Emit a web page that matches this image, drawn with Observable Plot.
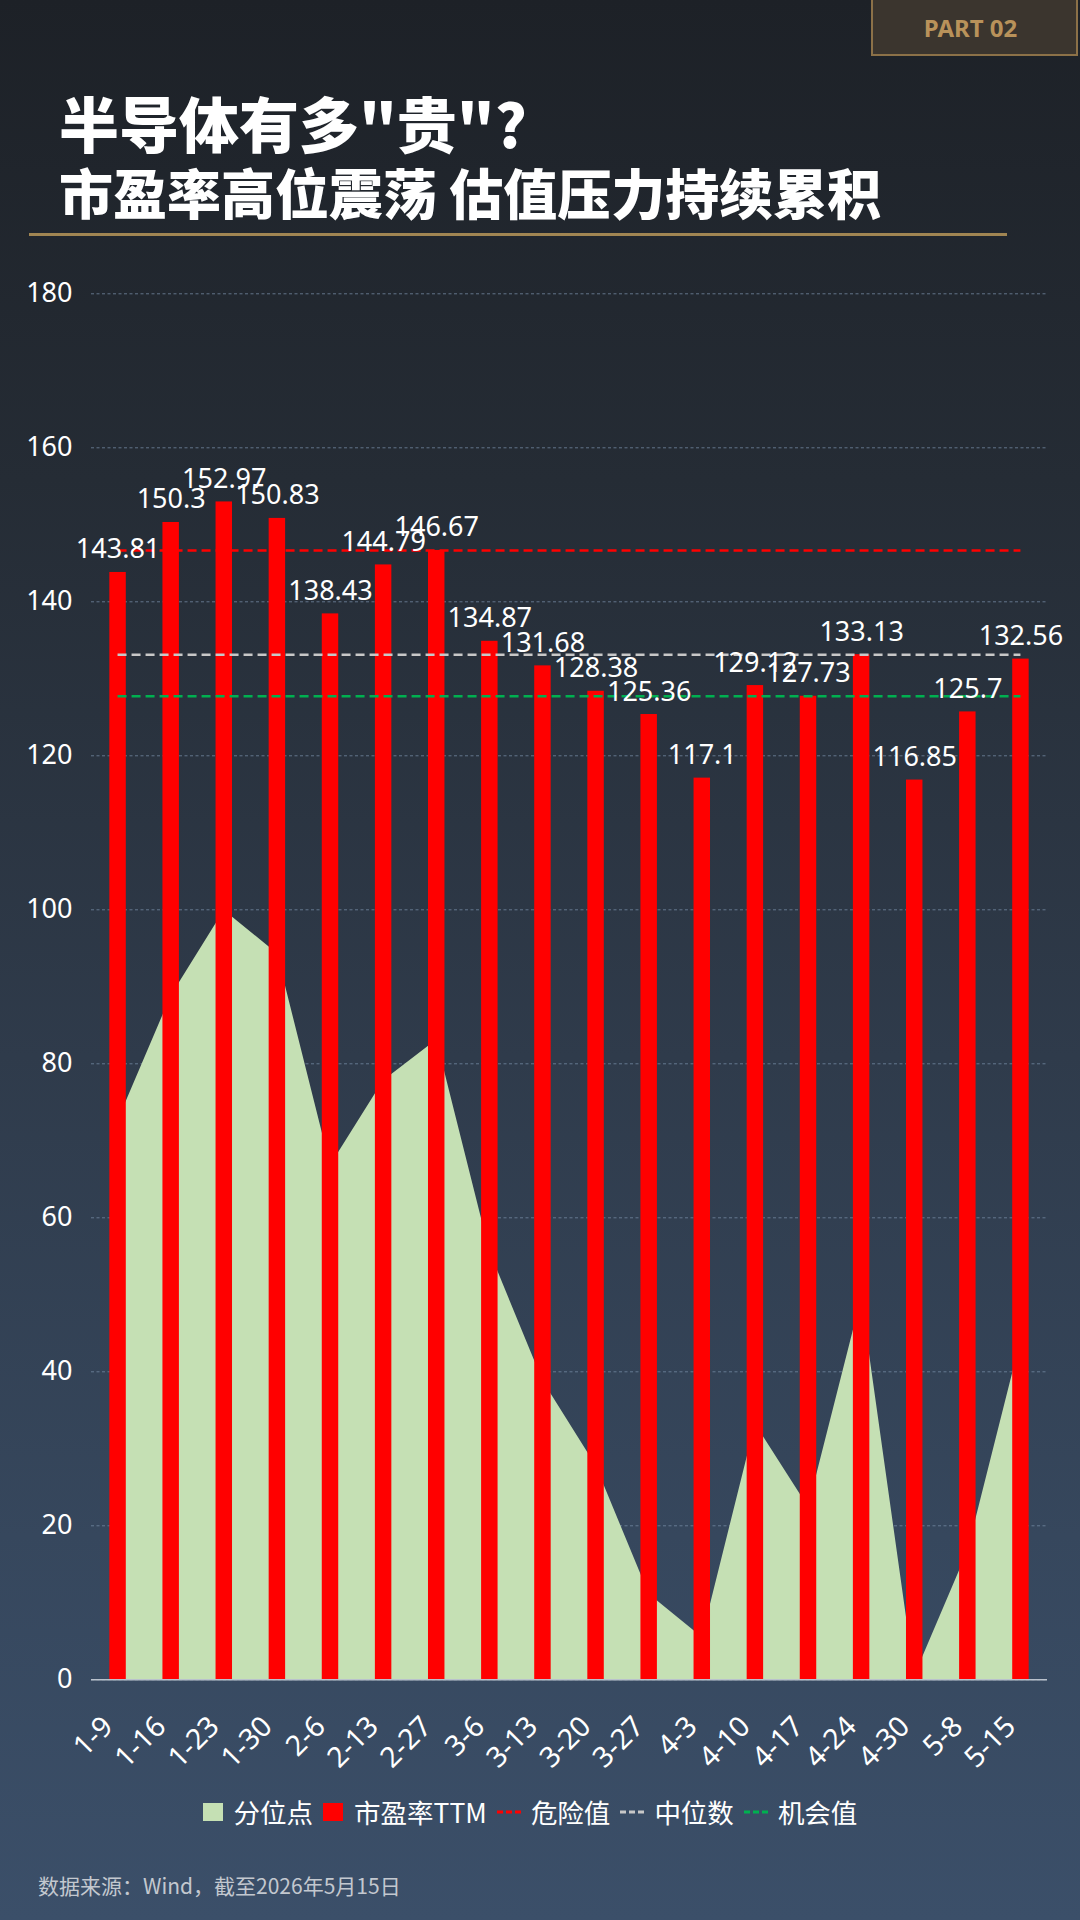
<!DOCTYPE html>
<html>
<head>
<meta charset="utf-8">
<script src="https://cdn.jsdelivr.net/npm/d3@7"></script>
<script src="https://cdn.jsdelivr.net/npm/@observablehq/plot@0.6"></script>
<style>
  html, body { margin: 0; padding: 0; }
  body {
    width: 1080px; height: 1920px; position: relative; overflow: hidden;
    background: linear-gradient(180deg, #1d2127 0%, #252c35 25%, #2f3b4b 55%, #36475d 80%, #3b4f69 100%);
    font-family: "Noto Sans CJK SC", "Noto Sans", sans-serif;
    color: #fff;
  }
  .part {
    position: absolute; left: 871px; top: -2px; width: 207px; height: 58px;
    border: 2px solid #8c7148; background: #3b352e; box-sizing: border-box;
    color: #b9925a; font: 700 24px "Noto Sans", sans-serif;
    display: flex; align-items: center; justify-content: center; padding-right: 8px;
  }
  .t1, .t2 {
    position: absolute; left: 59px; font-weight: 900;
    white-space: nowrap;
  }
  .t1 { top: 92px; font-size: 60px; line-height: 60px; }
  .t2 { top: 165px; font-size: 54px; line-height: 54px; }
  .rule { position: absolute; left: 29px; top: 233px; width: 978px; height: 3px; background: #a08552; }
  #chart { position: absolute; left: 0; top: 240px; }
  .legend {
    position: absolute; left: 0; width: 1070px; top: 1794px; height: 36px;
    display: flex; align-items: center; justify-content: center;
    font-size: 26.5px; line-height: 36px; white-space: nowrap;
  }
  .legend .sw { display: inline-block; width: 20px; height: 18px; margin-right: 11px; }
  .legend .it { display: flex; align-items: center; margin-right: 10px; }
  .legend svg { margin-right: 8px; }
  .source {
    position: absolute; left: 38px; top: 1870px; font-size: 21px; color: #c3c8cf; white-space: nowrap;
  }
</style>
</head>
<body>
<div class="part">PART 02</div>
<div class="t1">半导体有多"贵"?</div>
<div class="t2">市盈率高位震荡 估值压力持续累积</div>
<div class="rule"></div>
<div id="chart"></div>
<div class="legend" id="legend"></div>
<div class="source">数据来源：Wind，截至2026年5月15日</div>
<script>
// ---- data ----
const dates = ["1-9","1-16","1-23","1-30","2-6","2-13","2-27","3-6","3-13","3-20","3-27","4-3","4-10","4-17","4-24","4-30","5-8","5-15"];
const peTTM = [143.81,150.3,152.97,150.83,138.43,144.79,146.67,134.87,131.68,128.38,125.36,117.1,129.12,127.73,133.13,116.85,125.7,132.56];
const percentile = [72.6,88.8,99.9,94.3,66.8,77.8,83.1,55.6,38.8,27.8,11.1,5.5,33.2,22.4,49.6,0.5,16.7,44.1];
const dangerValue = 146.67;
const medianValue = 133.13;
const chanceValue = 127.73;
const yTicks = [0,20,40,60,80,100,120,140,160,180];

const seriesNames = ["分位点","市盈率TTM","危险值","中位数","机会值"];
const colors = {area: "#c5e0b4", bar: "#ff0000", danger: "#ff0000", median: "#c8c8c8", chance: "#00b050"};

const rows = dates.map((d, i) => ({i, date: d, pe: peTTM[i], pct: percentile[i]}));
const refs = [
  {v: dangerValue, c: colors.danger},
  {v: medianValue, c: colors.median},
  {v: chanceValue, c: colors.chance}
];
const halfBar = 0.155;
const last = dates.length - 1;

const chart = Plot.plot({
  width: 1080,
  height: 1540,
  marginLeft: 91,
  marginRight: 33,
  marginTop: 53.3,
  marginBottom: 100.7,
  style: {background: "transparent", color: "#ffffff", fontFamily: "'Noto Sans', 'Noto Sans CJK SC', sans-serif", overflow: "visible"},
  x: {domain: [-0.5, dates.length - 0.5]},
  y: {domain: [0, 180]},
  marks: [
    Plot.gridY(yTicks, {stroke: "#7388a0", strokeOpacity: 0.8, strokeDasharray: "3,2.5", strokeWidth: 1}),
    Plot.areaY(rows, {x: "i", y: "pct", fill: colors.area}),
    Plot.rectY(rows, {x1: d => d.i - halfBar, x2: d => d.i + halfBar, y1: 0, y2: "pe", fill: colors.bar}),
    Plot.ruleY([0], {stroke: "#b9c1cc", strokeWidth: 1.5}),
    Plot.ruleY(refs, {y: "v", x1: 0, x2: last, stroke: "c", strokeWidth: 2.5, strokeDasharray: "9,5"}),
    Plot.text(rows, {x: "i", y: "pe", text: d => String(d.pe), dy: -14, lineAnchor: "bottom", fontSize: 27, fill: "#ffffff"}),
    Plot.axisY({ticks: yTicks, tickSize: 0, tickPadding: 19, fontSize: 27, label: null}),
    Plot.axisX({ticks: d3.range(dates.length), tickFormat: i => dates[i], tickRotate: -45, tickSize: 0, tickPadding: 42, dx: -10, textAnchor: "end", lineAnchor: "middle", fontSize: 28.5, label: null})
  ]
});
document.getElementById("chart").appendChild(chart);

// ---- legend ----
const legend = document.getElementById("legend");
function addSwatch(name, color) {
  const it = document.createElement("div"); it.className = "it";
  it.innerHTML = `<span class="sw" style="background:${color}"></span><span>${name}</span>`;
  legend.appendChild(it);
}
function addDash(name, color) {
  const it = document.createElement("div"); it.className = "it";
  it.innerHTML = `<svg width="26" height="6"><line x1="0" y1="3" x2="26" y2="3" stroke="${color}" stroke-width="3" stroke-dasharray="6,3"/></svg><span>${name}</span>`;
  legend.appendChild(it);
}
addSwatch(seriesNames[0], colors.area);
addSwatch(seriesNames[1], colors.bar);
addDash(seriesNames[2], colors.danger);
addDash(seriesNames[3], colors.median);
addDash(seriesNames[4], colors.chance);
</script>
</body>
</html>
